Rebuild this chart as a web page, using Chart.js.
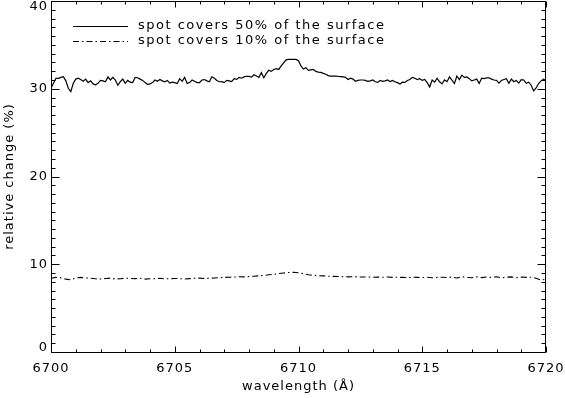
<!DOCTYPE html>
<html>
<head>
<meta charset="utf-8">
<script src="https://cdn.jsdelivr.net/npm/chart.js@4.4.0/dist/chart.umd.min.js"></script>
<style>
  html, body { margin: 0; padding: 0; background: #fff; }
  #wrap { width: 565px; height: 398px; }
</style>
</head>
<body>
<div id="wrap"><canvas id="spotChart" width="565" height="398"></canvas></div>
<script>
/* Wavelength grid (Angstrom) for the 50% curve */
const wavelength = [
    6700.0, 6700.1, 6700.2, 6700.3, 6700.4, 6700.5, 6700.6, 6700.7, 6700.8, 6700.9,
    6701.0, 6701.1, 6701.2, 6701.3, 6701.4, 6701.5, 6701.6, 6701.7, 6701.8, 6701.9,
    6702.0, 6702.1, 6702.2, 6702.3, 6702.4, 6702.5, 6702.6, 6702.7, 6702.8, 6702.9,
    6703.0, 6703.1, 6703.2, 6703.3, 6703.4, 6703.5, 6703.6, 6703.7, 6703.8, 6703.9,
    6704.0, 6704.1, 6704.2, 6704.3, 6704.4, 6704.5, 6704.6, 6704.7, 6704.8, 6704.9,
    6705.0, 6705.1, 6705.2, 6705.3, 6705.4, 6705.5, 6705.6, 6705.7, 6705.8, 6705.9,
    6706.0, 6706.1, 6706.2, 6706.3, 6706.4, 6706.5, 6706.6, 6706.7, 6706.8, 6706.9,
    6707.0, 6707.1, 6707.2, 6707.3, 6707.4, 6707.5, 6707.6, 6707.7, 6707.8, 6707.9,
    6708.0, 6708.1, 6708.2, 6708.3, 6708.4, 6708.5, 6708.6, 6708.7, 6708.8, 6708.9,
    6709.0, 6709.1, 6709.2, 6709.3, 6709.4, 6709.5, 6709.6, 6709.7, 6709.8, 6709.9,
    6710.0, 6710.1, 6710.2, 6710.3, 6710.4, 6710.5, 6710.6, 6710.7, 6710.8, 6710.9,
    6711.0, 6711.1, 6711.2, 6711.3, 6711.4, 6711.5, 6711.6, 6711.7, 6711.8, 6711.9,
    6712.0, 6712.1, 6712.2, 6712.3, 6712.4, 6712.5, 6712.6, 6712.7, 6712.8, 6712.9,
    6713.0, 6713.1, 6713.2, 6713.3, 6713.4, 6713.5, 6713.6, 6713.7, 6713.8, 6713.9,
    6714.0, 6714.1, 6714.2, 6714.3, 6714.4, 6714.5, 6714.6, 6714.7, 6714.8, 6714.9,
    6715.0, 6715.1, 6715.2, 6715.3, 6715.4, 6715.5, 6715.6, 6715.7, 6715.8, 6715.9,
    6716.0, 6716.1, 6716.2, 6716.3, 6716.4, 6716.5, 6716.6, 6716.7, 6716.8, 6716.9,
    6717.0, 6717.1, 6717.2, 6717.3, 6717.4, 6717.5, 6717.6, 6717.7, 6717.8, 6717.9,
    6718.0, 6718.1, 6718.2, 6718.3, 6718.4, 6718.5, 6718.6, 6718.7, 6718.8, 6718.9,
    6719.0, 6719.1, 6719.2, 6719.3, 6719.4, 6719.5, 6719.6, 6719.7, 6719.8, 6719.9,
    6720.0,
];

/* Relative change (%) when the spot covers 50% of the surface */
const change50 = [
    30.05, 30.62, 31.19, 31.19, 31.30, 31.37, 30.90, 30.05, 29.67, 30.62,
    31.10, 31.20, 31.05, 30.85, 31.10, 30.70, 30.90, 30.55, 30.45, 30.62,
    30.95, 30.90, 30.80, 31.35, 31.00, 31.30, 31.00, 30.40, 30.80, 31.10,
    30.62, 30.95, 30.75, 30.70, 31.30, 31.25, 31.10, 30.95, 30.70, 30.50,
    30.55, 30.70, 31.00, 30.85, 31.05, 30.90, 30.80, 30.95, 30.65, 30.75,
    30.70, 30.60, 31.15, 30.85, 31.30, 30.60, 30.70, 31.00, 30.85, 30.70,
    30.70, 31.00, 31.05, 30.90, 30.80, 31.37, 31.20, 30.95, 30.80, 30.81,
    30.70, 30.95, 30.90, 30.81, 31.15, 31.07, 31.30, 31.20, 31.35, 31.42,
    31.40, 31.32, 31.60, 31.45, 31.30, 31.83, 31.25, 31.75, 32.10, 31.98,
    32.20, 32.30, 32.20, 32.60, 32.95, 33.30, 33.35, 33.35, 33.35, 33.35,
    33.20, 32.60, 32.25, 32.40, 32.10, 32.15, 32.20, 31.98, 31.90, 31.86,
    31.75, 31.66, 31.50, 31.45, 31.45, 31.45, 31.40, 31.38, 31.35, 31.30,
    31.05, 31.20, 31.10, 30.85, 30.95, 31.00, 31.00, 30.95, 30.85, 30.90,
    31.00, 30.80, 30.72, 30.95, 30.85, 30.90, 31.00, 30.81, 30.95, 30.80,
    30.70, 30.55, 30.75, 30.72, 30.95, 31.05, 31.30, 31.20, 31.05, 31.15,
    30.95, 31.05, 30.70, 30.20, 31.00, 30.75, 31.20, 30.80, 30.55, 31.00,
    30.80, 31.35, 30.98, 30.60, 31.45, 31.05, 31.55, 31.30, 31.35, 31.15,
    30.90, 31.00, 31.10, 30.60, 31.20, 31.15, 31.25, 31.25, 31.10, 31.00,
    30.95, 30.65, 30.95, 31.05, 31.15, 30.62, 31.10, 30.80, 30.95, 30.65,
    31.05, 31.00, 30.62, 30.75, 30.40, 29.75, 30.10, 30.60, 30.90, 31.10,
    30.95,
];

/* Coarser wavelength grid for the 10% curve */
const wavelengthCoarse = [
    6700.0, 6700.2, 6700.4, 6700.6, 6700.8, 6701.0, 6701.2, 6701.4, 6701.6, 6701.8,
    6702.0, 6702.2, 6702.4, 6702.6, 6702.8, 6703.0, 6703.2, 6703.4, 6703.6, 6703.8,
    6704.0, 6704.2, 6704.4, 6704.6, 6704.8, 6705.0, 6705.2, 6705.4, 6705.6, 6705.8,
    6706.0, 6706.2, 6706.4, 6706.6, 6706.8, 6707.0, 6707.2, 6707.4, 6707.6, 6707.8,
    6708.0, 6708.2, 6708.4, 6708.6, 6708.8, 6709.0, 6709.2, 6709.4, 6709.6, 6709.8,
    6710.0, 6710.2, 6710.4, 6710.6, 6710.8, 6711.0, 6711.2, 6711.4, 6711.6, 6711.8,
    6712.0, 6712.2, 6712.4, 6712.6, 6712.8, 6713.0, 6713.2, 6713.4, 6713.6, 6713.8,
    6714.0, 6714.2, 6714.4, 6714.6, 6714.8, 6715.0, 6715.2, 6715.4, 6715.6, 6715.8,
    6716.0, 6716.2, 6716.4, 6716.6, 6716.8, 6717.0, 6717.2, 6717.4, 6717.6, 6717.8,
    6718.0, 6718.2, 6718.4, 6718.6, 6718.8, 6719.0, 6719.2, 6719.4, 6719.6, 6719.8,
    6720.0,
];

/* Relative change (%) when the spot covers 10% of the surface */
const change10 = [
    8.40, 8.50, 8.45, 8.30, 8.22, 8.45, 8.50, 8.44, 8.40, 8.34,
    8.32, 8.38, 8.42, 8.32, 8.34, 8.42, 8.38, 8.36, 8.40, 8.30,
    8.34, 8.36, 8.40, 8.34, 8.36, 8.38, 8.36, 8.32, 8.36, 8.40,
    8.42, 8.38, 8.40, 8.44, 8.46, 8.50, 8.52, 8.54, 8.58, 8.56,
    8.60, 8.64, 8.68, 8.72, 8.80, 8.86, 8.94, 9.00, 9.06, 9.08,
    9.04, 8.92, 8.80, 8.74, 8.70, 8.68, 8.64, 8.62, 8.60, 8.58,
    8.56, 8.58, 8.55, 8.54, 8.55, 8.52, 8.54, 8.52, 8.55, 8.50,
    8.52, 8.50, 8.48, 8.52, 8.50, 8.48, 8.52, 8.46, 8.50, 8.52,
    8.48, 8.54, 8.44, 8.58, 8.50, 8.46, 8.56, 8.48, 8.54, 8.50,
    8.58, 8.46, 8.52, 8.56, 8.48, 8.54, 8.50, 8.52, 8.40, 8.20,
    8.30,
];

const seriesLabels = ["spot covers 50% of the surface", "spot covers 10% of the surface"];
const xTicks = [6700, 6705, 6710, 6715, 6720];
const yTicks = [0, 10, 20, 30, 40];

const FONT = "'DejaVu Sans', sans-serif";
const DASH_DOT = [6, 3, 1.5, 3];

Chart.defaults.font.family = FONT;
Chart.defaults.font.size = 13;
Chart.defaults.color = "#000";

/* IDL-style frame: box on all four sides with inward major/minor ticks */
const framePlugin = {
    id: "frame",
    afterDatasetsDraw(chart) {
        const { ctx, chartArea: a, scales: { x, y } } = chart;
        const L = a.left + 0.5, R = a.right - 0.5, T = a.top + 0.5, B = a.bottom + 0.5;
        ctx.save();
        ctx.strokeStyle = "#000";
        ctx.lineWidth = 1;
        ctx.setLineDash([]);
        ctx.beginPath();
        ctx.moveTo(L, T); ctx.lineTo(R, T); ctx.lineTo(R, B); ctx.lineTo(L, B); ctx.closePath();
        for (let v = x.min; v <= x.max; v += 1) {
            const px = Math.round(x.getPixelForValue(v)) + 0.5;
            const len = xTicks.includes(v) ? 6 : 3;
            ctx.moveTo(px, B); ctx.lineTo(px, B - len);
            ctx.moveTo(px, T); ctx.lineTo(px, T + len);
        }
        for (let v = y.min; v <= y.max; v += 1) {
            const py = Math.round(y.getPixelForValue(v)) + 0.5;
            const len = yTicks.includes(v) ? 8 : 4;
            ctx.moveTo(L, py); ctx.lineTo(L + len, py);
            ctx.moveTo(R, py); ctx.lineTo(R - len, py);
        }
        ctx.stroke();
        ctx.restore();
    },
};

/* Legend drawn inside the plot, line sample then text */
const insideLegend = {
    id: "insideLegend",
    afterDraw(chart) {
        const { ctx, chartArea: a } = chart;
        ctx.save();
        ctx.font = "13px " + FONT;
        ctx.letterSpacing = "1.5px";
        ctx.fillStyle = "#000";
        ctx.textBaseline = "middle";
        chart.data.datasets.forEach((ds, i) => {
            const yy = a.top + 24.5 + i * 15.5;
            ctx.strokeStyle = ds.borderColor;
            ctx.lineWidth = ds.borderWidth;
            ctx.setLineDash(ds.borderDash || []);
            ctx.beginPath();
            ctx.moveTo(a.left + 22, Math.round(yy) + 0.5);
            ctx.lineTo(a.left + 77, Math.round(yy) + 0.5);
            ctx.stroke();
            ctx.fillText(ds.label, a.left + 87, yy);
        });
        ctx.restore();
    },
};

const labelTweak = {
    id: "labelTweak",
    afterLayout(chart) {
        /* IDL keeps the end labels of the y axis inside the frame */
        chart.scales.y.getLabelItems().forEach(it => {
            if (it.label === "0") it.options.translation[1] -= 4;
            if (it.label === "40") it.options.translation[1] += 6;
        });
    },
    beforeDraw(chart) {
        chart.ctx.letterSpacing = "1px";
    },
};

new Chart(document.getElementById("spotChart"), {
    type: "line",
    data: {
        datasets: [
            {
                label: seriesLabels[0],
                data: wavelength.map((w, i) => ({ x: w, y: change50[i] })),
                borderColor: "#000",
                borderWidth: 1.2,
                pointRadius: 0,
                tension: 0,
            },
            {
                label: seriesLabels[1],
                data: wavelengthCoarse.map((w, i) => ({ x: w, y: change10[i] })),
                borderColor: "#000",
                borderWidth: 1.1,
                borderDash: DASH_DOT,
                pointRadius: 0,
                tension: 0,
            },
        ],
    },
    options: {
        responsive: false,
        animation: false,
        devicePixelRatio: 1,
        layout: { padding: { top: 1, right: 19, left: 0, bottom: 0 } },
        plugins: {
            legend: { display: false },
            tooltip: { enabled: false },
        },
        scales: {
            x: {
                type: "linear",
                min: 6700,
                max: 6720,
                grid: { display: false, drawTicks: false },
                border: { display: false },
                ticks: {
                    stepSize: 5,
                    autoSkip: false,
                    maxRotation: 0,
                    padding: 9,
                    callback: v => String(v),
                },
                title: { display: true, text: "wavelength (Å)", padding: { top: 0, bottom: 4 } },
                afterFit(s) {
                    s.height = 46;
                    s.paddingLeft = 0;
                    s.paddingRight = 0;
                },
            },
            y: {
                min: 0,
                max: 40,
                grid: { display: false, drawTicks: false },
                border: { display: false },
                ticks: {
                    stepSize: 10,
                    padding: 3,
                    callback: v => String(v),
                },
                title: { display: true, text: "relative change (%)", padding: { top: 2, bottom: 0 } },
                afterFit(s) {
                    s.width = 51;
                    s.paddingTop = 0;
                    s.paddingBottom = 0;
                },
            },
        },
    },
    plugins: [framePlugin, insideLegend, labelTweak],
});
</script>
</body>
</html>
